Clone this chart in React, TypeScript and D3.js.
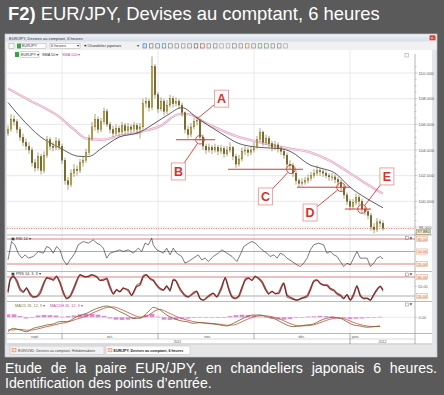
import React from "react";
import * as d3 from "d3";

// ---------------- DATA ----------------
const opens = [
  105.3,105.6,106.4,106.2,105.6,105.0,104.6,104.3,104.0,103.0,
  102.6,103.5,102.4,103.6,104.8,104.3,104.2,104.7,104.3,103.2,
  101.6,101.3,102.2,102.5,102.4,103.0,103.2,103.8,104.9,105.8,
  106.4,105.6,106.2,107.0,106.0,105.6,105.3,105.7,105.4,105.9,
  105.5,105.8,105.6,105.9,105.6,105.8,107.6,107.8,107.3,110.5,
  108.3,107.2,107.8,107.0,107.5,108.0,107.6,107.8,107.5,106.9,
  105.6,105.2,105.8,106.2,106.3,105.0,104.3,104.0,104.2,104.0,
  104.2,103.9,104.1,103.7,104.0,104.2,103.5,102.9,103.3,103.9,
  104.0,103.8,104.0,104.3,104.8,105.4,104.6,104.9,104.5,104.2,
  104.4,104.1,103.9,103.6,102.9,102.8,102.2,101.6,101.4,101.5,
  101.6,101.8,102.0,102.2,102.4,102.3,102.2,102.0,101.9,101.9,
  101.7,101.5,101.1,100.5,100.0,99.6,99.9,100.3,100.0,99.4,
  99.2,98.9,98.0,97.8,98.4,98.3,
];
const closes = [
  105.6,106.4,106.2,105.6,105.0,104.6,104.3,104.0,103.0,102.6,
  103.5,102.4,103.6,104.8,104.3,104.2,104.7,104.3,103.2,101.6,
  101.3,102.2,102.5,102.4,103.0,103.2,103.8,104.9,105.8,106.4,
  105.6,106.2,107.0,106.0,105.6,105.3,105.7,105.4,105.9,105.5,
  105.8,105.6,105.9,105.6,105.8,107.6,107.8,107.3,110.5,108.3,
  107.2,107.8,107.0,107.5,108.0,107.6,107.8,107.5,106.9,105.6,
  105.2,105.8,106.2,106.3,105.0,104.3,104.0,104.2,104.0,104.2,
  103.9,104.1,103.7,104.0,104.2,103.5,102.9,103.3,103.9,104.0,
  103.8,104.0,104.3,104.8,105.4,104.6,104.9,104.5,104.2,104.4,
  104.1,103.9,103.6,102.9,102.8,102.2,101.6,101.4,101.5,101.6,
  101.8,102.0,102.2,102.4,102.3,102.2,102.0,101.9,101.9,101.7,
  101.5,101.1,100.5,100.0,99.6,99.9,100.3,100.0,99.4,99.2,
  98.9,98.0,97.8,98.4,98.3,97.9,
];
const highs = [
  105.9,106.8,106.7,106.4,105.8,105.3,104.9,104.6,104.2,103.3,
  103.8,103.7,103.9,105.1,105.0,104.6,105.0,104.9,104.5,103.4,
  101.9,102.5,102.9,102.8,103.3,103.5,104.1,105.2,106.2,106.8,
  106.6,106.5,107.3,107.2,106.2,105.9,106.0,105.9,106.2,106.1,
  106.1,106.0,106.2,106.1,106.1,108.0,108.1,108.0,111.3,110.7,
  108.5,108.1,108.0,107.9,108.3,108.2,108.1,108.0,107.7,107.0,
  105.9,106.1,106.5,106.6,106.4,105.2,104.5,104.5,104.4,104.5,
  104.4,104.4,104.3,104.3,104.6,104.3,103.7,103.6,104.2,104.3,
  104.2,104.3,104.6,105.1,105.7,105.5,105.2,105.1,104.7,104.7,
  104.6,104.3,104.1,103.8,103.2,103.0,102.4,101.8,101.8,101.9,
  102.1,102.3,102.5,102.8,102.6,102.5,102.4,102.2,102.2,102.1,
  101.9,101.7,101.3,100.7,100.2,100.2,100.6,100.5,100.2,99.6,
  99.4,99.1,98.3,98.7,98.6,98.5,
];
const lows = [
  105.1,105.4,105.9,105.3,104.7,104.3,104.0,103.7,102.7,102.3,
  102.4,102.1,102.2,103.4,104.0,103.9,104.0,104.0,102.9,101.3,
  100.9,101.1,101.9,102.0,102.2,102.7,103.0,103.6,104.7,105.5,
  105.3,105.4,106.0,105.8,105.3,105.0,105.1,105.1,105.2,105.2,
  105.3,105.3,105.4,105.2,104.9,105.6,107.3,107.0,107.1,108.0,
  106.9,107.0,106.7,106.8,107.3,107.3,107.4,107.2,106.6,105.3,
  104.9,105.0,105.6,105.9,104.7,104.0,103.7,103.8,103.7,103.8,
  103.6,103.7,103.4,103.5,103.8,103.2,102.6,102.7,103.1,103.6,
  103.5,103.6,103.8,104.1,104.6,104.3,104.4,104.2,103.9,104.0,
  103.8,103.6,103.3,102.6,102.5,101.9,101.3,101.1,101.2,101.3,
  101.4,101.6,101.8,102.0,102.0,101.9,101.8,101.6,101.6,101.4,
  101.2,100.8,100.2,99.7,99.3,99.4,99.7,99.7,99.1,98.9,
  98.6,97.7,97.5,97.6,98.0,97.7,
];

// [candle index, value]
const sma50 = [
  [0,107.7],[4,106.6],[11,105.0],[17,104.2],[24,103.5],[27,103.5],[31,104.1],[37,105.0],
  [44,105.4],[47,105.8],[53,106.7],[58,107.3],[63,106.5],[71,105.3],[77,104.5],[84,104.2],
  [91,104.1],[94,103.9],[101,102.8],[104,102.6],[109,102.2],[114,101.1],[119,100.3],[125,99.5],
];
const sma100 = [
  [0,108.8],[7,107.9],[17,106.6],[22,105.6],[26,104.9],[31,104.8],[37,105.1],[44,105.4],
  [51,105.9],[57,106.8],[60,106.8],[66,106.1],[77,105.0],[84,104.6],[94,104.1],[101,103.8],
  [107,103.2],[114,102.2],[120,101.3],[125,100.6],
];

const rsi14 = [
  [0,30],[1.2,74],[2.3,66],[3.4,46],[4.6,34],[5.7,42],[6.8,34],[8.4,38],[10.1,50],[11.8,46],
  [12.9,62],[14,58],[15.1,46],[16.2,62],[17.3,54],[18.4,30],[19.6,18],[20.7,30],[22.3,46],[23.4,66],
  [25.1,74],[26.8,70],[28.4,78],[29.6,70],[30.7,66],[31.8,58],[32.9,34],[34,46],[35.7,50],[37.3,54],
  [38.4,50],[40.1,54],[41.8,46],[43.4,58],[44.6,50],[45.7,70],[46.8,66],[47.9,82],[48.4,66],[49.6,54],
  [50.7,50],[51.8,46],[52.9,58],[54,42],[55.1,58],[56.2,46],[57.9,38],[59,22],[60.1,26],[61.8,34],
  [63.4,42],[64.6,30],[65.7,34],[66.8,26],[68.4,38],[70.1,46],[71.3,54],[73,46],[74.7,38],[76.3,26],
  [77.4,42],[78.6,62],[80.2,70],[81.3,74],[82.4,70],[83.6,62],[84.7,54],[86.3,46],[87.4,38],[88.6,42],
  [89.7,34],[90.8,46],[91.9,42],[93,34],[94.7,26],[96.3,18],[97.4,14],[98.6,22],[99.7,34],[100.8,54],
  [101.9,66],[103.6,70],[105.2,66],[106.3,46],[107.4,50],[108.6,42],[109.7,38],[110.8,26],[111.9,14],[113,22],
  [114.1,18],[115.2,34],[116.3,50],[117.4,34],[118.6,34],[119.7,34],[120.8,14],[121.9,22],[123,34],[124.1,38],
  [125,32],
];

// [index, %D (red), %K (black)]
const stoch = [
  [0,34,28],[0.7,70,76],[1.8,81,86],[2.9,70,62],[4,44,36],[5.1,34,30],[6.2,44,48],[7.3,28,22],[8.4,18,14],[9.6,18,20],
  [10.7,28,36],[11.8,55,62],[12.9,76,80],[14,76,72],[15.1,70,74],[16.2,81,84],[17.3,65,58],[18.4,34,26],[19.6,13,9],[20.7,18,22],
  [21.8,39,46],[22.9,65,72],[24,86,88],[25.7,81,80],[26.8,81,84],[27.9,86,88],[29.6,81,78],[30.7,70,68],[31.8,70,74],[32.9,76,72],
  [34,50,42],[35.1,28,24],[36.2,39,42],[37.3,34,32],[38.4,44,48],[40.1,39,34],[41.2,23,20],[42.9,50,56],[44,55,60],[45.1,81,86],
  [46.2,86,88],[47.3,76,72],[48.4,70,68],[49.6,55,50],[50.7,44,40],[51.8,39,38],[52.9,50,54],[54,39,34],[55.1,70,74],[55.7,70,72],
  [57.3,44,38],[59,23,18],[60.1,18,16],[61.8,28,32],[62.9,34,36],[64,13,10],[65.1,7,6],[66.8,18,22],[68.4,28,30],[69.6,18,16],
  [71.2,45,52],[72.4,76,80],[73.6,44,36],[74.7,18,14],[75.8,13,10],[76.9,18,22],[78,44,50],[79.1,70,76],[80.2,76,78],[81.3,70,68],
  [82.4,81,84],[83.5,76,74],[84.7,65,60],[85.8,44,38],[86.9,28,24],[88,34,36],[89.1,28,26],[90.2,28,32],[91.3,50,56],[91.9,60,62],
  [93,23,16],[94.7,13,10],[96.3,7,6],[98,13,14],[99.7,18,22],[100.8,39,46],[101.9,65,70],[103,70,72],[104.1,60,58],[105.2,55,54],
  [106.3,55,52],[107.4,44,40],[108.6,39,36],[109.7,28,24],[110.8,23,20],[111.9,13,10],[113,23,26],[114.1,7,6],[115.2,23,28],[116.3,50,54],
  [117.4,23,18],[118.6,13,10],[119.7,13,12],[120.8,7,6],[121.9,23,26],[123,39,44],[124.1,50,52],[125,39,34],
];

// [index, MACD, signal]
const macd = [
  [0,-1.2,-1.05],[1.8,-0.92,-1.05],[4,-1.06,-1.0],[6.2,-1.2,-1.08],[8.4,-0.92,-1.05],[10.7,-0.78,-0.92],
  [12.9,-0.64,-0.78],[15.1,-0.56,-0.66],[17.3,-0.36,-0.52],[19.6,-0.36,-0.42],[22.9,0.05,-0.15],[26.2,0.33,0.12],
  [28.4,0.61,0.38],[30.7,0.83,0.62],[32.9,0.94,0.82],[35.1,0.75,0.86],[37.3,0.47,0.7],[39.6,0.19,0.45],
  [41.8,-0.08,0.2],[44,-0.08,0.02],[46.2,0.33,0.1],[47.3,0.61,0.25],[48.4,0.83,0.45],[49.6,0.75,0.6],
  [50.7,0.61,0.66],[52.9,0.19,0.45],[55.1,-0.08,0.18],[57.3,-0.28,-0.05],[59.6,-0.36,-0.22],[61.8,-0.5,-0.36],
  [64,-0.44,-0.45],[66.2,-0.5,-0.48],[68.4,-0.56,-0.52],[70.7,-0.64,-0.58],[72.9,-0.72,-0.66],[75.1,-0.5,-0.64],
  [77.3,-0.22,-0.45],[79.6,0.05,-0.18],[81.8,0.19,0.02],[84,0.19,0.14],[86.2,0.05,0.12],[88.4,-0.08,0.02],
  [90.7,-0.36,-0.15],[92.9,-0.64,-0.4],[95.1,-0.78,-0.62],[97.3,-0.72,-0.72],[99.6,-0.64,-0.7],[101.8,-0.56,-0.63],
  [104,-0.28,-0.45],[106.2,-0.08,-0.25],[108.4,0.0,-0.1],[110.7,-0.08,-0.06],[112.9,-0.36,-0.2],[115.1,-0.64,-0.42],
  [117.3,-0.72,-0.6],[119.6,-0.83,-0.72],[121.8,-0.78,-0.78],[124,-0.72,-0.76],
];
// histogram, one value every 2 candles starting at index 0
const macdHist = [
  0.25,0.25,0.1,-0.1,-0.05,0.15,0.2,0.18,0.15,0.05,
  0.1,0.15,0.25,0.3,0.28,0.22,0.12,-0.1,-0.2,-0.22,
  -0.2,-0.15,-0.05,0.2,0.3,0.05,-0.2,-0.22,-0.2,-0.12,
  -0.1,-0.05,0.03,0.02,-0.03,-0.05,-0.05,0.1,0.18,0.22,
  0.2,0.15,0.05,-0.05,-0.12,-0.18,-0.2,-0.15,-0.05,0.02,
  0.06,0.08,0.12,0.1,0.08,0.0,-0.1,-0.15,-0.12,-0.1,
  -0.05,0.02,0.04,
];

const priceTicks = [98, 100, 102, 104, 106, 108, 110];
const oscLevels = [20, 50, 80];
const monthBounds = [18, 50, 82, 114];
const monthLabels: [string, number][] = [["sept.", 9], ["oct.", 34], ["nov.", 66.5], ["déc.", 98], ["janv.", 115.8]];
const yearLabels: [string, number][] = [["2011", 56.5], ["2012", 124.8]];
const lastPrice = 97.88;

const annotations = [
  { label: "A", idx: 63, price: 106.42, boxIdx: 71.2, boxPrice: 108.0, circle: false, hFrom: 0, hTo: 0 },
  { label: "B", idx: 64, price: 104.8, boxIdx: 56.8, boxPrice: 102.33, circle: true, hFrom: 56, hTo: 69 },
  { label: "C", idx: 94.3, price: 102.5, boxIdx: 85.8, boxPrice: 100.38, circle: true, hFrom: 73.3, hTo: 98.3 },
  { label: "D", idx: 111, price: 101.1, boxIdx: 100.7, boxPrice: 99.13, circle: true, hFrom: 96.3, hTo: 114 },
  { label: "E", idx: 118, price: 99.4, boxIdx: 126.3, boxPrice: 101.94, circle: true, hFrom: 112.3, hTo: 121 },
];

const titleBold = "F2)";
const titleRest = " EUR/JPY, Devises au comptant, 6 heures";
const captionLine1 = "Etude de la paire EUR/JPY, en chandeliers japonais 6 heures.";
const captionLine2 = "Identification des points d’entrée.";

// ---------------- HELPERS ----------------
const FONT = "'Liberation Sans', Arial, Helvetica, sans-serif";
let ctx: CanvasRenderingContext2D | null = null;
function measure(text: string, font: string): number {
  if (!ctx) ctx = document.createElement("canvas").getContext("2d");
  if (!ctx) return text.length * 6;
  ctx.font = font;
  return ctx.measureText(text).width;
}

export default function App() {
  const x = d3.scaleLinear().domain([0, 125]).range([8, 383]);
  const yP = d3.scaleLinear().domain([98, 110]).range([227, 73]);
  const yR = d3.scaleLinear().domain([20, 80]).range([264, 239]);
  const yS = d3.scaleLinear().domain([20, 80]).range([296, 277]);
  const yM = d3.scaleLinear().domain([-1, 1]).range([329.3, 305.3]);

  const L = 7, R = 415, RL = 432;
  const pTop = 50, pBot = 235, rBot = 271.5, sBot = 301.5, mBot = 333.5, t1 = 339, t2 = 344;

  const maLine = d3.line<number[]>().x(d => x(d[0])).y(d => yP(d[1])).curve(d3.curveMonotoneX);
  const rsiLine = d3.line<number[]>().x(d => x(d[0])).y(d => yR(d[1]));
  const stD = d3.line<number[]>().x(d => x(d[0])).y(d => yS(d[1])).curve(d3.curveMonotoneX);
  const stK = d3.line<number[]>().x(d => x(d[0])).y(d => yS(d[2]));
  const mL = d3.line<number[]>().x(d => x(d[0])).y(d => yM(d[1])).curve(d3.curveMonotoneX);
  const sL = d3.line<number[]>().x(d => x(d[0])).y(d => yM(d[2])).curve(d3.curveMonotoneX);

  // title sizing
  const tW = measure(titleBold, `bold 17px ${FONT}`) + measure(titleRest, `17px ${FONT}`);
  const titleFs = (17 * 372) / tW;
  // caption sizing & justification via word-spacing
  const c2 = measure(captionLine2, `12px ${FONT}`);
  const capFs = (12 * 207) / c2;
  const l1W = measure(captionLine1, `${capFs}px ${FONT}`);
  const nGaps = captionLine1.split(" ").length - 1;
  const extraSpace = Math.max(0, (432 - l1W) / nGaps);

  const tiny = { fontFamily: FONT, fontSize: 4.3 } as const;

  const toolbarIcons = ["#2f6fd0","#666","#666","#2f6fd0","#777","#777","#888","#777","#555","#c04040","#777","#777","#999","#999","#777","#777","#c07030","#777","#5a8a5a","#5a8a5a","#777","#777","#999"];

  return (
    <svg width={444} height={395} style={{ position: "absolute", left: 0, top: 0 }} fontFamily={FONT}>
      <defs>
        <clipPath id="cp"><rect x={L} y={pTop} width={R - L} height={pBot - pTop} /></clipPath>
        <clipPath id="cr"><rect x={L} y={pBot} width={R - L} height={rBot - pBot} /></clipPath>
        <clipPath id="cs"><rect x={L} y={rBot} width={R - L} height={sBot - rBot} /></clipPath>
        <clipPath id="cm"><rect x={L} y={sBot} width={R - L} height={mBot - sBot} /></clipPath>
        <linearGradient id="tb" x1="0" x2="0" y1="0" y2="1">
          <stop offset="0" stopColor="#eef2f7" />
          <stop offset="1" stopColor="#d6dde6" />
        </linearGradient>
      </defs>
      <rect width={444} height={395} fill="#5a5a5a" />

      {/* Title */}
      <text x={8} y={19.5} fill="#fff" fontSize={titleFs}>
        <tspan fontWeight="bold">{titleBold}</tspan>
        <tspan>{titleRest}</tspan>
      </text>

      {/* Window */}
      <rect x={5} y={34} width={432} height={323} fill="#e4e6e9" stroke="#aeb6c0" strokeWidth={0.8} />
      <rect x={5.5} y={34.5} width={431} height={7} fill="url(#tb)" />
      <text x={9} y={39.8} {...tiny} fontSize={4} fill="#333">EUR/JPY, Devises au comptant, 6 heures</text>
      <rect x={429.5} y={35.2} width={6} height={5} fill="#cf4a3c" rx={0.8} />
      <text x={431} y={39.4} fontSize={4} fill="#fff">x</text>

      {/* Toolbar */}
      <rect x={5.5} y={41.5} width={431} height={8.5} fill="#f1f1f1" />
      <rect x={9} y={43.5} width={5} height={5} fill="#fff" stroke="#888" strokeWidth={0.4} />
      <rect x={17} y={43.5} width={4} height={5} fill="#3aa04a" />
      <rect x={21} y={43.5} width={25} height={5} fill="#fff" stroke="#999" strokeWidth={0.4} />
      <text x={22} y={47.4} {...tiny} fontSize={3.8} fill="#333">EURJPY</text>
      <rect x={50} y={43.5} width={30} height={5} fill="#fff" stroke="#999" strokeWidth={0.4} />
      <text x={51} y={47.4} {...tiny} fontSize={3.8} fill="#333">6 heures</text>
      <text x={77} y={47.4} fontSize={3.8} fill="#333">▾</text>
      <text x={84} y={47.4} {...tiny} fontSize={3.8} fill="#333">♣ Chandelier japonais</text>
      <text x={137} y={47.4} fontSize={3.8} fill="#333">▾</text>
      {toolbarIcons.map((c, i) => (
        <g key={i}>
          <rect x={143 + i * 6.4} y={43.8} width={3.6} height={4.2} fill={i === 0 ? "#cfe0f5" : "none"} stroke={c} strokeWidth={0.6} />
        </g>
      ))}

      {/* Chart background */}
      <rect x={L} y={pTop} width={RL - L} height={t2 - pTop} fill="#fff" />

      {/* gridlines */}
      {priceTicks.map(t => (
        <line key={t} x1={L} x2={R} y1={yP(t)} y2={yP(t)} stroke="#e0e0e0" strokeWidth={0.7} />
      ))}
      {monthBounds.map(m => (
        <line key={m} x1={x(m)} x2={x(m)} y1={pTop} y2={mBot} stroke="#e0e0e0" strokeWidth={0.7} />
      ))}

      {/* Moving averages */}
      <g clipPath="url(#cp)">
        <path d={maLine(sma100) || ""} fill="none" stroke="#e2a6c2" strokeWidth={2.3} />
        <path d={maLine(sma100) || ""} fill="none" stroke="#fbeff5" strokeWidth={0.8} />
        <path d={maLine(sma50) || ""} fill="none" stroke="#2a2a2a" strokeWidth={0.75} />
        {/* last price dotted line */}
        <line x1={L} x2={R} y1={yP(lastPrice)} y2={yP(lastPrice)} stroke="#d04040" strokeWidth={0.6} strokeDasharray="1.2,1.2" />
        {/* Candles */}
        {closes.map((c, i) => {
          const o = opens[i];
          const up = c >= o;
          const cxp = x(i);
          const top = yP(Math.max(o, c));
          const bot = yP(Math.min(o, c));
          return (
            <g key={i}>
              <line x1={cxp} x2={cxp} y1={yP(highs[i])} y2={yP(lows[i])} stroke="#6a5818" strokeWidth={0.55} />
              <rect x={cxp - 0.85} y={top} width={1.7} height={Math.max(0.8, bot - top)}
                fill={up ? "#cdb552" : "#75622a"} stroke="#6a5818" strokeWidth={0.3} />
            </g>
          );
        })}
        {/* Annotations */}
        {annotations.map(a => {
          const px = x(a.idx), py = yP(a.price);
          const bx = x(a.boxIdx), by = yP(a.boxPrice);
          const hw = 7, hh = 8.5, r = 4.3;
          const dx = px - bx, dy = py - by;
          const s = Math.min(hw / Math.abs(dx || 1e-6), hh / Math.abs(dy || 1e-6));
          const ex = bx + dx * s, ey = by + dy * s;
          const len = Math.hypot(dx, dy);
          const sx = a.circle ? px - (dx / len) * r : px;
          const sy = a.circle ? py - (dy / len) * r : py;
          return (
            <g key={a.label}>
              {a.circle && (
                <line x1={x(a.hFrom)} x2={x(a.hTo)} y1={py} y2={py} stroke="#e03535" strokeWidth={1} />
              )}
              {a.circle && <circle cx={px} cy={py} r={r} fill="none" stroke="#e03535" strokeWidth={0.9} />}
              <line x1={sx} y1={sy} x2={ex} y2={ey} stroke="#e03535" strokeWidth={0.9} />
              <rect x={bx - hw} y={by - hh} width={hw * 2} height={hh * 2} fill="#fff" stroke="#e89a9a" strokeWidth={0.9} />
              <text x={bx} y={by + 4.3} textAnchor="middle" fontSize={12.5} fontWeight="bold" fill="#d92f2f">{a.label}</text>
            </g>
          );
        })}
      </g>

      {/* Price pane legend */}
      <rect x={15} y={52} width={4} height={5} fill="#3aa04a" />
      <rect x={20} y={51.8} width={19} height={5.6} fill="#fff" stroke="#999" strokeWidth={0.4} />
      <text x={21} y={55.9} {...tiny} fontSize={3.8} fill="#333">EURJPY ▾</text>
      <text x={42} y={55.9} {...tiny} fontSize={3.8} fill="#333">SMA 50 ▾</text>
      <text x={62} y={55.9} {...tiny} fontSize={3.8} fill="#c0508a">SMA 100 ▾</text>
      <rect x={405} y={53.5} width={3.5} height={3.5} fill="none" stroke="#777" strokeWidth={0.4} />

      {/* Price axis */}
      <line x1={R} x2={R} y1={pTop + 4} y2={t2} stroke="#888" strokeWidth={0.6} />
      {d3.range(97.5, 110.6, 0.5).map(t => (
        <line key={t} x1={R} x2={R + (t % 2 === 0 ? 2.6 : 1.5)} y1={yP(t)} y2={yP(t)} stroke="#888" strokeWidth={0.4} />
      ))}
      {priceTicks.map(t => (
        <text key={t} x={418.5} y={yP(t) + 1.5} {...tiny} fill="#555">{d3.format(".3f")(t)}</text>
      ))}
      <rect x={416.5} y={229.2} width={14} height={5.4} fill="#f6f1d2" stroke="#8d7d34" strokeWidth={0.5} />
      <text x={417.5} y={233.3} {...tiny} fontSize={4} fill="#333">{d3.format(".3f")(lastPrice)}</text>

      {/* Pane separators */}
      {[pBot, rBot, sBot, mBot].map(y => (
        <line key={y} x1={L} x2={RL} y1={y} y2={y} stroke="#8c8c8c" strokeWidth={0.6} />
      ))}

      {/* RSI pane */}
      {oscLevels.map(v => (
        <line key={v} x1={L} x2={R} y1={yR(v)} y2={yR(v)} stroke={v === 50 ? "#8a8a8a" : "#d24a4a"} strokeWidth={0.7} />
      ))}
      <g clipPath="url(#cr)">
        <path d={rsiLine(rsi14) || ""} fill="none" stroke="#222" strokeWidth={0.6} />
      </g>
      <text x={11} y={239.5} {...tiny} fontSize={3.8} fill="#333">▣ RSI 14 ▾</text>
      {oscLevels.map(v => (
        <g key={v}>
          <rect x={416.5} y={yR(v) - 2.6} width={11} height={5.2} fill="#fff3ea" stroke="#e39a7a" strokeWidth={0.45} />
          <text x={417.4} y={yR(v) + 1.5} {...tiny} fontSize={3.9} fill="#c85a40">{d3.format(".2f")(v)}</text>
        </g>
      ))}

      {/* Stochastic pane */}
      <line x1={L} x2={R} y1={yS(80)} y2={yS(80)} stroke="#d24a4a" strokeWidth={0.7} />
      <line x1={L} x2={R} y1={yS(20)} y2={yS(20)} stroke="#8a8a8a" strokeWidth={0.7} />
      <g clipPath="url(#cs)">
        <path d={stD(stoch) || ""} fill="none" stroke="#b33a3a" strokeWidth={1.5} />
        <path d={stK(stoch) || ""} fill="none" stroke="#222" strokeWidth={0.55} />
      </g>
      <text x={11} y={275} {...tiny} fontSize={3.8} fill="#333">▣ PRS 14, 3, 3 ▾</text>
      {[80, 20].map(v => (
        <g key={v}>
          <rect x={416.5} y={yS(v) - 2.6} width={11} height={5.2} fill="#fff3ea" stroke="#e39a7a" strokeWidth={0.45} />
          <text x={417.4} y={yS(v) + 1.5} {...tiny} fontSize={3.9} fill="#c85a40">{d3.format(".2f")(v)}</text>
        </g>
      ))}
      <line x1={R} x2={R + 2} y1={yS(50)} y2={yS(50)} stroke="#888" strokeWidth={0.4} />
      <text x={418} y={yS(50) + 1.5} {...tiny} fontSize={3.9} fill="#666">50.00</text>

      {/* MACD pane */}
      <line x1={L} x2={R} y1={yM(0)} y2={yM(0)} stroke="#e2c8e0" strokeWidth={0.5} />
      <g clipPath="url(#cm)">
        {macdHist.map((v, k) => (
          <rect key={k} x={x(k * 2) - 2.4} width={4.8} y={Math.min(yM(v), yM(0))} height={Math.max(0.5, Math.abs(yM(v) - yM(0)))}
            fill="#d070c2" opacity={0.8} />
        ))}
        <path d={sL(macd) || ""} fill="none" stroke="#d04545" strokeWidth={0.8} />
        <path d={mL(macd) || ""} fill="none" stroke="#6b5f22" strokeWidth={0.8} />
      </g>
      <text x={15} y={307.3} {...tiny} fontSize={3.8} fill="#7a7a3a">MACD 26, 12, 9 ▾</text>
      <text x={50} y={307.3} {...tiny} fontSize={3.8} fill="#c04aa8">MACDH 26, 12, 9 ▾</text>
      <line x1={R} x2={R + 2} y1={yM(0)} y2={yM(0)} stroke="#888" strokeWidth={0.4} />
      <text x={418.5} y={yM(0) + 1.5} {...tiny} fontSize={3.9} fill="#666">0.00</text>

      {/* pane icons */}
      {[pBot, rBot, sBot].map(y => (
        <g key={y}>
          <rect x={405.5} y={y + 1.5} width={3.2} height={3} fill="none" stroke="#666" strokeWidth={0.4} />
          <text x={409.5} y={y + 4.6} fontSize={4.5} fill="#333" fontWeight="bold">×</text>
        </g>
      ))}

      {/* Time axis */}
      <line x1={L} x2={R} y1={t1} y2={t1} stroke="#b0b0b0" strokeWidth={0.5} />
      <line x1={L} x2={RL} y1={t2} y2={t2} stroke="#8c8c8c" strokeWidth={0.6} />
      {monthBounds.map(m => (
        <line key={m} x1={x(m)} x2={x(m)} y1={mBot} y2={t1} stroke="#555" strokeWidth={0.5} />
      ))}
      <line x1={x(114)} x2={x(114)} y1={t1} y2={t2} stroke="#555" strokeWidth={0.5} />
      {monthLabels.map(([lab, i]) => (
        <text key={lab} x={x(i)} y={337.9} textAnchor="middle" {...tiny} fontSize={3.6} fill="#555">{lab}</text>
      ))}
      {yearLabels.map(([lab, i]) => (
        <text key={lab} x={x(i)} y={342.8} textAnchor="middle" {...tiny} fontSize={3.6} fill="#555">{lab}</text>
      ))}

      {/* bottom tabs */}
      <rect x={5.5} y={344.5} width={431} height={12} fill="#e6e6e6" />
      <rect x={10} y={346} width={94} height={8.5} fill="#f2f2f2" stroke="#b8b8b8" strokeWidth={0.5} />
      <rect x={12} y={348.3} width={4} height={3.6} fill="#f4d8c8" stroke="#c07050" strokeWidth={0.4} />
      <text x={18} y={351.6} {...tiny} fontSize={3.6} fill="#444">EUR/USD, Devises au comptant, Hebdomadaire</text>
      <rect x={106} y={346} width={84} height={8.5} fill="#fff" stroke="#b8b8b8" strokeWidth={0.5} />
      <rect x={108} y={348.3} width={4} height={3.6} fill="#f4d8c8" stroke="#c07050" strokeWidth={0.4} />
      <text x={113.5} y={351.6} {...tiny} fontSize={3.6} fontWeight="bold" fill="#222">EUR/JPY, Devises au comptant, 6 heures</text>

      {/* Caption: line 1 justified with word-spacing */}
      <text x={5} y={373.2} fill="#fff" fontSize={capFs} wordSpacing={extraSpace}>{captionLine1}</text>
      <text x={5} y={388.4} fill="#fff" fontSize={capFs}>{captionLine2}</text>
    </svg>
  );
}
